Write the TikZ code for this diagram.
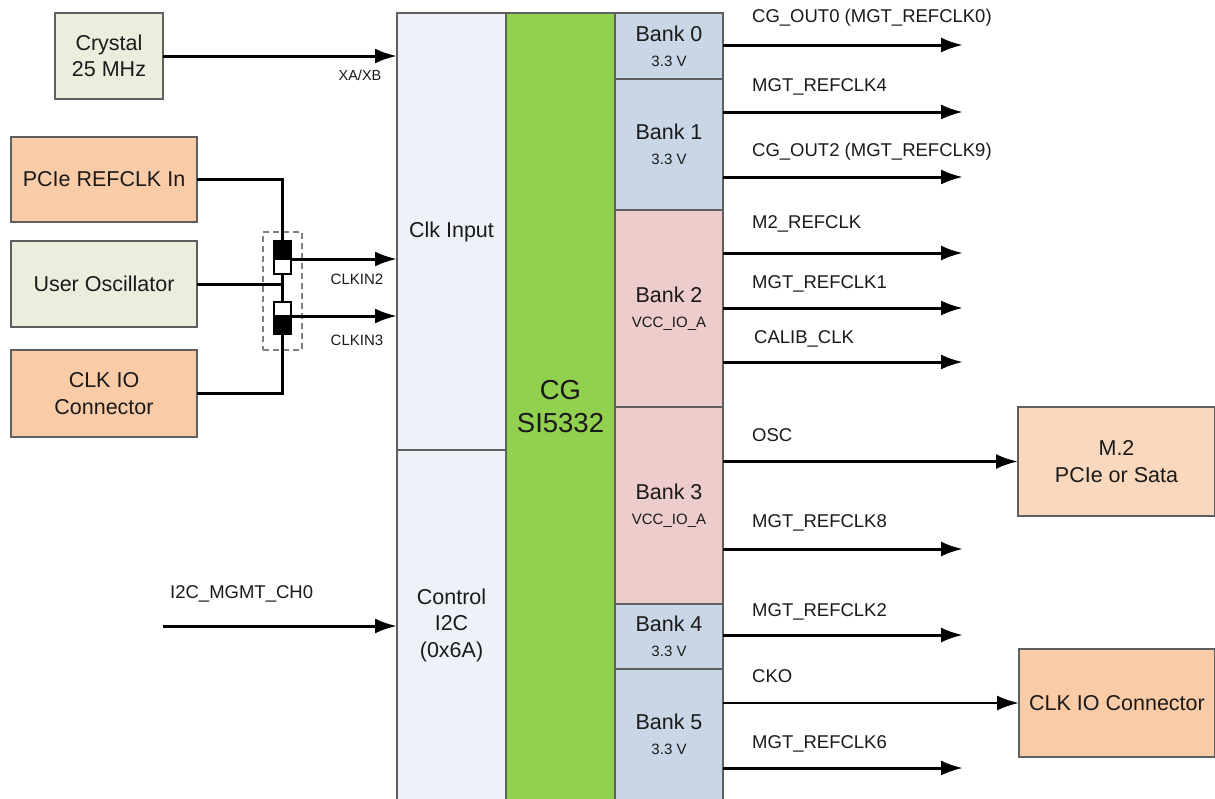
\documentclass[tikz,border=0pt]{standalone}
\usepackage{fontspec}
\setmainfont{Liberation Sans}
\usetikzlibrary{arrows.meta}
\definecolor{bordc}{HTML}{5F5F5F}
\definecolor{cryst}{HTML}{EAEFDD}
\definecolor{peach}{HTML}{F9CBA7}
\definecolor{peachl}{HTML}{FAD8BE}
\definecolor{clkin}{HTML}{EEF2F8}
\definecolor{cggreen}{HTML}{92D050}
\definecolor{bankblue}{HTML}{C8D6E6}
\definecolor{bankpink}{HTML}{EDCDCB}
\definecolor{txt}{HTML}{1A1A1A}
\newcommand{\banktxt}[2]{{\fontsize{21.5}{22}\selectfont #1}\\[-1.5pt]{\fontsize{15}{16}\selectfont #2}}
\begin{document}
\begin{tikzpicture}[x=1pt,y=-1pt,
  blk/.style={draw=bordc, line width=1.3pt, inner sep=0pt, outer sep=0pt, anchor=north west, align=center, text=txt, font=\fontsize{21.5}{26.5}\selectfont},
  wire/.style={line width=3pt},
  arr/.style={wire, -{Latex[length=22pt,width=15pt]}},
  lbl/.style={font=\fontsize{18.5}{20}\selectfont, anchor=base west, inner sep=0pt, text=txt},
  smalllbl/.style={font=\fontsize{15}{16}\selectfont, inner sep=0pt, text=txt},
  swb/.style={draw=black, line width=1.3pt, minimum width=17pt, inner sep=0pt, outer sep=0pt}]
\useasboundingbox (0,0) rectangle (1215,798);
\fill[white] (0,0) rectangle (1215,798);
% left sources
\node[blk, fill=cryst, minimum width=108pt, minimum height=86pt] (crystal) at (55,13) {Crystal\\25 MHz};
\node[blk, fill=peach, minimum width=186pt, minimum height=85pt] (pcie) at (11,137) {PCIe REFCLK In};
\node[blk, fill=cryst, minimum width=186pt, minimum height=86pt] (uosc) at (11,241) {User Oscillator};
\node[blk, fill=peach, minimum width=186pt, minimum height=87pt] (clkiol) at (11,350) {CLK IO\\Connector};
% chip
\node[blk, fill=clkin, minimum width=109pt, minimum height=437pt] (clkin) at (397,13) {Clk Input};
\node[blk, fill=clkin, minimum width=109pt, minimum height=350pt] (ctrl) at (397,450) {Control\\I2C\\(0x6A)};
\node[blk, fill=cggreen, minimum width=109pt, minimum height=787pt, font=\fontsize{27.5}{33}\selectfont] (cg) at (506,13) {CG\\SI5332};
\node[blk, fill=bankblue, minimum width=108pt, minimum height=66pt] (b0) at (615,13) {\banktxt{Bank 0}{3.3 V}};
\node[blk, fill=bankblue, minimum width=108pt, minimum height=131pt] (b1) at (615,79) {\banktxt{Bank 1}{3.3 V}};
\node[blk, fill=bankpink, minimum width=108pt, minimum height=197pt] (b2) at (615,210) {\banktxt{Bank 2}{VCC\_IO\_A}};
\node[blk, fill=bankpink, minimum width=108pt, minimum height=197pt] (b3) at (615,407) {\banktxt{Bank 3}{VCC\_IO\_A}};
\node[blk, fill=bankblue, minimum width=108pt, minimum height=65pt] (b4) at (615,604) {\banktxt{Bank 4}{3.3 V}};
\node[blk, fill=bankblue, minimum width=108pt, minimum height=131pt] (b5) at (615,669) {\banktxt{Bank 5}{3.3 V}};
% right targets
\node[blk, fill=peachl, minimum width=197pt, minimum height=109pt] (m2) at (1018,407) {M.2\\PCIe or Sata};
\node[blk, fill=peach, minimum width=196pt, minimum height=108pt] (clkior) at (1019,649) {CLK IO Connector};
% switch
\node[draw=gray, dashed, dash pattern=on 6pt off 4pt, line width=1.3pt, minimum width=39pt, minimum height=118pt, inner sep=0pt] (swbox) at (282.5,291) {};
\node[swb, fill=black, minimum height=18pt] (s1a) at (282.5,250) {};
\node[swb, fill=white, minimum height=15pt] (s1b) at (282.5,266.5) {};
\node[swb, fill=white, minimum height=14pt] (s2a) at (282.5,309) {};
\node[swb, fill=black, minimum height=18pt] (s2b) at (282.5,325) {};
\draw[wire] (pcie.east) -| (s1a.north);
\draw[wire] (s1b.south) -- (s2a.north);
\draw[wire] (uosc.east) -- (s1b.south |- uosc.east);
\draw[wire] (clkiol.east) -| (s2b.south);
\draw[arr] (s1a.south east) -- (clkin.west |- s1a.south east);
\draw[arr] (s2b.north east) -- (clkin.west |- s2b.north east);
\node[smalllbl] (lclkin2) at (357,279) {CLKIN2};
\node[smalllbl] (lclkin3) at (357,340) {CLKIN3};
% crystal
\draw[arr] (crystal.east) -- (clkin.west |- crystal.east);
\node[smalllbl, font=\fontsize{14.5}{15}\selectfont] (lxa) at (360,75) {XA/XB};
% i2c
\coordinate (i2cs) at (163,626);
\draw[arr] (i2cs) -- (ctrl.west |- i2cs);
\node[lbl] (li2c) at (170,598.5) {I2C\_MGMT\_CH0};
% outputs
\foreach \bank/\yy/\name in {b0/45/o0, b1/112/o1, b1/177/o2, b2/253/o3, b2/308/o4, b2/362/o5, b3/549/o6, b4/635/o7, b5/768/o8}{
  \coordinate (\name) at (963,\yy);
  \draw[arr] (\bank.east |- \name) -- (\name);
}
\node[lbl] (l0) at (752,22.5) {CG\_OUT0 (MGT\_REFCLK0)};
\node[lbl] (l1) at (752,91.5) {MGT\_REFCLK4};
\node[lbl] (l2) at (752,156.5) {CG\_OUT2 (MGT\_REFCLK9)};
\node[lbl] (l3) at (752,228.5) {M2\_REFCLK};
\node[lbl] (l4) at (752,288.5) {MGT\_REFCLK1};
\node[lbl] (l5) at (754,343.5) {CALIB\_CLK};
\node[lbl] (l6) at (752,441.5) {OSC};
\node[lbl] (l7) at (752,527.5) {MGT\_REFCLK8};
\node[lbl] (l8) at (752,616.5) {MGT\_REFCLK2};
\node[lbl] (l9) at (752,682.5) {CKO};
\node[lbl] (l10) at (752,748.5) {MGT\_REFCLK6};
\draw[arr] (b3.east |- m2.west) -- (m2.west);
\draw[arr, line width=2.5pt] (b5.east |- clkior.west) -- (clkior.west);
\end{tikzpicture}
\end{document}
